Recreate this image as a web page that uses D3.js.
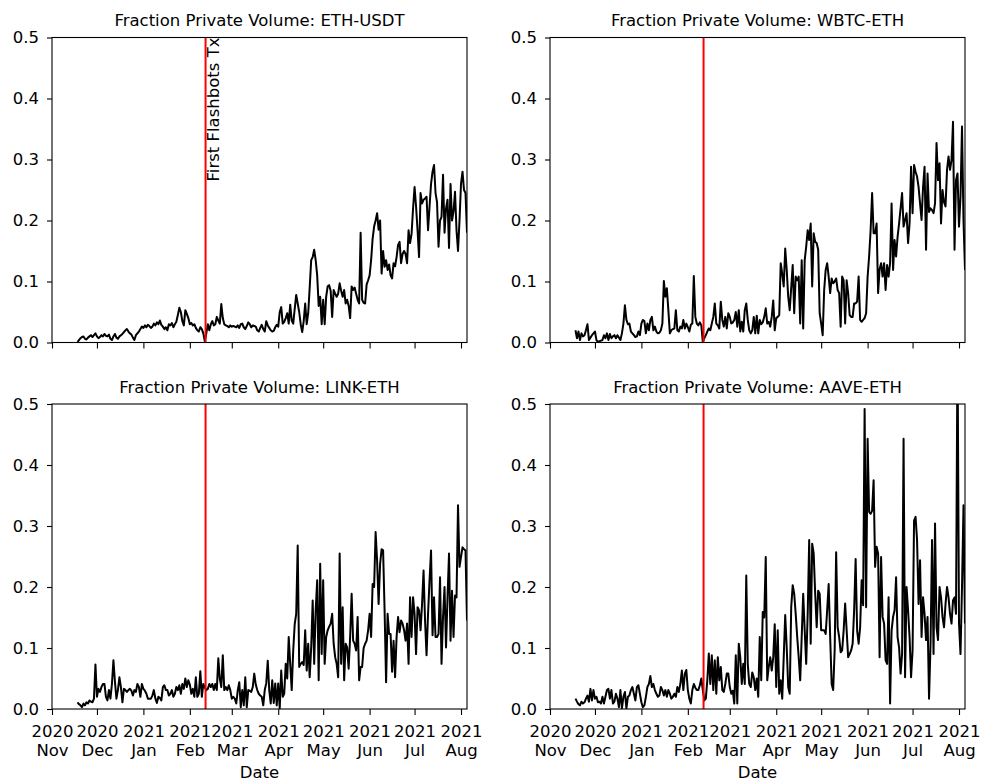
<!DOCTYPE html>
<html>
<head>
<meta charset="utf-8">
<script src="https://cdn.jsdelivr.net/npm/d3@7"></script>
<style>
    body { margin: 0; background: #fff; }
    svg text { font-family: "DejaVu Sans", sans-serif; font-size: 16.5px; fill: #000; }
</style>
</head>
<body>
<svg id="chart" width="981" height="782"></svg>
<script>
// Daily fraction of private volume, one value per day starting at firstDay
var firstDay = "2020-11-18";
var flashbotsDay = "2021-02-11T12:00:00Z";
var axisStart = "2020-11-01";
var pairNames = ["ETH-USDT", "WBTC-ETH", "LINK-ETH", "AAVE-ETH"];
var yTicks = [0, 0.1, 0.2, 0.3, 0.4, 0.5];
var monthTicks = ["2020-11-01", "2020-12-01", "2021-01-01", "2021-02-01", "2021-03-01",
    "2021-04-01", "2021-05-01", "2021-06-01", "2021-07-01", "2021-08-01"];

var ethUsdt = [
    0.001, 0.004, 0.007, 0.009, 0.01, 0.006, 0.005, 0.008, 0.01, 0.012,
    0.009, 0.012, 0.015, 0.01, 0.007, 0.009, 0.012, 0.01, 0.014, 0.011,
    0.01, 0.013, 0.006, 0.004, 0.01, 0.014, 0.008, 0.006, 0.01, 0.012,
    0.014, 0.017, 0.02, 0.022, 0.018, 0.015, 0.013, 0.008, 0.004, 0.012,
    0.015, 0.018, 0.022, 0.026, 0.024, 0.028, 0.025, 0.029, 0.027, 0.024,
    0.026, 0.031, 0.028, 0.033, 0.03, 0.036, 0.029, 0.026, 0.022, 0.025,
    0.02, 0.03, 0.028, 0.032, 0.025, 0.03, 0.034, 0.045, 0.057, 0.05,
    0.035, 0.028, 0.053, 0.047, 0.04, 0.03, 0.032, 0.028, 0.03, 0.024,
    0.02, 0.018, 0.025, 0.022, 0.015, 0.002, 0.015, 0.03, 0.02, 0.03,
    0.035, 0.028, 0.03, 0.042, 0.036, 0.031, 0.063, 0.04, 0.03, 0.028,
    0.027, 0.025, 0.028, 0.026, 0.027, 0.026, 0.025, 0.028, 0.024, 0.03,
    0.031, 0.025, 0.022, 0.027, 0.033, 0.03, 0.025, 0.028, 0.027, 0.026,
    0.02, 0.018, 0.024, 0.029, 0.022, 0.018, 0.035, 0.028, 0.024, 0.02,
    0.018, 0.019, 0.025, 0.029, 0.026, 0.05, 0.058, 0.031, 0.034, 0.04,
    0.048, 0.031, 0.062, 0.036, 0.031, 0.055, 0.078, 0.064, 0.05, 0.03,
    0.017, 0.035, 0.064, 0.03, 0.048, 0.09, 0.135, 0.14, 0.152, 0.135,
    0.11, 0.06, 0.075, 0.03, 0.07, 0.03, 0.075, 0.092, 0.094, 0.085,
    0.042, 0.086, 0.08, 0.075, 0.08, 0.097, 0.085, 0.075, 0.086, 0.064,
    0.07, 0.06, 0.04, 0.092, 0.086, 0.09, 0.08, 0.07, 0.064, 0.18,
    0.07, 0.065, 0.064, 0.095, 0.102, 0.11, 0.135, 0.17, 0.19, 0.2,
    0.212, 0.185, 0.2, 0.113, 0.15, 0.124, 0.135, 0.119, 0.128, 0.11,
    0.105, 0.13, 0.125, 0.14, 0.16, 0.165, 0.13, 0.145, 0.15, 0.145,
    0.13, 0.184, 0.163, 0.178, 0.22, 0.255, 0.223, 0.184, 0.14, 0.245,
    0.228, 0.234, 0.236, 0.239, 0.184, 0.223, 0.26, 0.28, 0.291, 0.245,
    0.23, 0.157, 0.2, 0.206, 0.275, 0.18, 0.22, 0.234, 0.155, 0.26,
    0.2, 0.215, 0.247, 0.184, 0.15, 0.2, 0.26, 0.28, 0.25, 0.245, 0.18
];

var wbtcEth = [
    0.02, 0.007, 0.018, 0.004, 0.015, 0.01, 0.012, 0.02, 0.03, 0.004,
    0.008, 0.012, 0.015, 0.018, 0.004, 0.001, 0.002, 0.003, 0.004, 0.012,
    0.007, 0.015, 0.004, 0.014, 0.007, 0.01, 0.012, 0.007, 0.012, 0.008,
    0.004, 0.015, 0.031, 0.061, 0.037, 0.03, 0.031, 0.018, 0.015, 0.012,
    0.009, 0.01, 0.018, 0.012, 0.031, 0.037, 0.035, 0.015, 0.031, 0.02,
    0.037, 0.042, 0.02, 0.026, 0.018, 0.015, 0.016, 0.02, 0.031, 0.101,
    0.075, 0.089, 0.053, 0.015, 0.02, 0.022, 0.023, 0.053, 0.02, 0.018,
    0.026, 0.023, 0.037, 0.023, 0.031, 0.025, 0.018, 0.029, 0.031, 0.109,
    0.042, 0.031, 0.028, 0.033, 0.028, 0.001, 0.007, 0.012, 0.018, 0.023,
    0.02, 0.031, 0.042, 0.064, 0.031, 0.028, 0.023, 0.067, 0.037, 0.026,
    0.042, 0.023, 0.048, 0.042, 0.031, 0.033, 0.037, 0.05, 0.026, 0.053,
    0.018, 0.034, 0.018, 0.053, 0.064, 0.037, 0.02, 0.015, 0.02, 0.042,
    0.015, 0.044, 0.015, 0.037, 0.03, 0.033, 0.042, 0.056, 0.031, 0.034,
    0.026, 0.042, 0.069, 0.02, 0.04, 0.042, 0.045, 0.13, 0.113, 0.092,
    0.154, 0.119, 0.075, 0.053, 0.09, 0.127, 0.048, 0.108, 0.102, 0.108,
    0.031, 0.135, 0.023, 0.135, 0.157, 0.184, 0.168, 0.195, 0.092, 0.179,
    0.165, 0.163, 0.152, 0.048, 0.031, 0.012, 0.086, 0.119, 0.13, 0.108,
    0.081, 0.105, 0.097, 0.1, 0.105, 0.086, 0.081, 0.026, 0.108, 0.102,
    0.031, 0.102, 0.081, 0.045, 0.042, 0.042, 0.064, 0.064, 0.067, 0.108,
    0.037, 0.034, 0.037, 0.04, 0.048, 0.108, 0.141, 0.184, 0.245, 0.179,
    0.179, 0.195, 0.081, 0.12, 0.13, 0.108, 0.13, 0.086, 0.127, 0.108,
    0.13, 0.228, 0.119, 0.168, 0.141, 0.173, 0.195, 0.22, 0.245, 0.19,
    0.201, 0.212, 0.163, 0.195, 0.288, 0.212, 0.291, 0.28, 0.272, 0.255,
    0.228, 0.201, 0.255, 0.288, 0.152, 0.277, 0.214, 0.22, 0.217, 0.212,
    0.228, 0.327, 0.266, 0.294, 0.195, 0.25, 0.23, 0.223, 0.283, 0.305,
    0.283, 0.299, 0.362, 0.152, 0.266, 0.277, 0.19, 0.239, 0.354, 0.2, 0.119
];

var linkEth = [
    0.011, 0.008, 0.006, 0.003, 0.009, 0.006, 0.011, 0.009, 0.014, 0.012,
    0.011, 0.017, 0.073, 0.02, 0.033, 0.028, 0.036, 0.041, 0.041, 0.02,
    0.014, 0.031, 0.017, 0.041, 0.08, 0.045, 0.017, 0.031, 0.052, 0.036,
    0.011, 0.033, 0.031, 0.028, 0.031, 0.033, 0.03, 0.022, 0.031, 0.028,
    0.041, 0.036, 0.02, 0.041, 0.033, 0.03, 0.025, 0.017, 0.017, 0.017,
    0.022, 0.031, 0.017, 0.01, 0.02, 0.018, 0.014, 0.036, 0.039, 0.031,
    0.031, 0.022, 0.025, 0.031, 0.02, 0.025, 0.036, 0.031, 0.039, 0.025,
    0.041, 0.033, 0.05, 0.036, 0.047, 0.04, 0.025, 0.033, 0.02, 0.052,
    0.02, 0.025, 0.062, 0.02, 0.041, 0.035, 0.031, 0.033, 0.041, 0.036,
    0.041, 0.031, 0.041, 0.031, 0.083, 0.05, 0.036, 0.088, 0.031, 0.036,
    0.031, 0.039, 0.031, 0.017, 0.02, 0.017, 0.009, 0.031, 0.044, 0.003,
    0.031, 0.006, 0.052, 0.003, 0.031, 0.03, 0.028, 0.036, 0.058, 0.04,
    0.031, 0.025, 0.022, 0.02, 0.006, 0.031, 0.042, 0.079, 0.031, 0.009,
    0.047, 0.01, 0.042, 0.006, 0.042, 0.001, 0.063, 0.02, 0.025, 0.074,
    0.05, 0.118, 0.074, 0.031, 0.096, 0.139, 0.156, 0.268, 0.069, 0.074,
    0.077, 0.072, 0.129, 0.063, 0.107, 0.052, 0.101, 0.178, 0.074, 0.162,
    0.211, 0.047, 0.238, 0.09, 0.211, 0.074, 0.118, 0.129, 0.135, 0.14,
    0.156, 0.107, 0.085, 0.074, 0.052, 0.255, 0.074, 0.167, 0.047, 0.107,
    0.101, 0.066, 0.118, 0.189, 0.112, 0.107, 0.096, 0.151, 0.047, 0.069,
    0.069, 0.1, 0.107, 0.112, 0.129, 0.156, 0.118, 0.205, 0.2, 0.29,
    0.243, 0.172, 0.238, 0.262, 0.26, 0.161, 0.044, 0.156, 0.123, 0.123,
    0.061, 0.112, 0.052, 0.118, 0.151, 0.126, 0.145, 0.14, 0.129, 0.112,
    0.14, 0.074, 0.183, 0.118, 0.183, 0.156, 0.09, 0.167, 0.162, 0.129,
    0.172, 0.227, 0.145, 0.088, 0.156, 0.211, 0.26, 0.121, 0.183, 0.118,
    0.118, 0.123, 0.216, 0.074, 0.151, 0.2, 0.101, 0.183, 0.255, 0.112,
    0.194, 0.118, 0.186, 0.183, 0.334, 0.233, 0.249, 0.265, 0.262, 0.26, 0.145
];

var aaveEth = [
    0.017, 0.012, 0.008, 0.006, 0.012, 0.009, 0.011, 0.017, 0.022, 0.012,
    0.033, 0.014, 0.031, 0.017, 0.02, 0.011, 0.012, 0.009, 0.02, 0.009,
    0.02, 0.031, 0.033, 0.017, 0.031, 0.009, 0.012, 0.025, 0.017, 0.003,
    0.031, 0.001, 0.02, 0.028, 0.001, 0.02, 0.022, 0.031, 0.036, 0.025,
    0.014, 0.036, 0.039, 0.025, 0.011, 0.003, 0.006, 0.02, 0.036, 0.041,
    0.054, 0.036, 0.041, 0.031, 0.025, 0.02, 0.022, 0.036, 0.031, 0.022,
    0.031, 0.02, 0.031, 0.025, 0.017, 0.02, 0.025, 0.02, 0.036, 0.028,
    0.041, 0.063, 0.031, 0.058, 0.064, 0.031, 0.017, 0.009, 0.031, 0.041,
    0.035, 0.031, 0.031, 0.039, 0.05, 0.031, 0.014, 0.017, 0.047, 0.091,
    0.041, 0.088, 0.031, 0.08, 0.025, 0.085, 0.047, 0.069, 0.031, 0.028,
    0.041, 0.058, 0.058, 0.036, 0.025, 0.03, 0.009, 0.088, 0.009, 0.107,
    0.085, 0.041, 0.074, 0.041, 0.219, 0.074, 0.041, 0.036, 0.06, 0.052,
    0.031, 0.05, 0.02, 0.118, 0.047, 0.159, 0.15, 0.249, 0.047, 0.069,
    0.085, 0.063, 0.085, 0.139, 0.036, 0.129, 0.025, 0.047, 0.017, 0.085,
    0.154, 0.101, 0.036, 0.025, 0.167, 0.203, 0.189, 0.156, 0.118, 0.085,
    0.047, 0.118, 0.189, 0.129, 0.074, 0.156, 0.277, 0.107, 0.271, 0.255,
    0.189, 0.134, 0.194, 0.189, 0.129, 0.129, 0.129, 0.123, 0.162, 0.205,
    0.118, 0.041, 0.031, 0.096, 0.257, 0.134, 0.118, 0.093, 0.096, 0.129,
    0.173, 0.129, 0.085, 0.09, 0.096, 0.107, 0.162, 0.246, 0.129, 0.107,
    0.134, 0.211, 0.17, 0.492, 0.167, 0.443, 0.323, 0.32, 0.325, 0.375,
    0.233, 0.266, 0.255, 0.085, 0.249, 0.151, 0.14, 0.08, 0.074, 0.183,
    0.009, 0.129, 0.151, 0.162, 0.216, 0.118, 0.101, 0.058, 0.09, 0.443,
    0.052, 0.2, 0.162, 0.118, 0.052, 0.096, 0.309, 0.315, 0.277, 0.172,
    0.244, 0.118, 0.183, 0.156, 0.113, 0.151, 0.017, 0.107, 0.277, 0.09,
    0.304, 0.134, 0.113, 0.2, 0.183, 0.151, 0.134, 0.172, 0.2, 0.183,
    0.156, 0.14, 0.178, 0.183, 0.156, 0.6, 0.14, 0.09, 0.2, 0.334, 0.14
];

var seriesValues = [ethUsdt, wbtcEth, linkEth, aaveEth];

// layout of the 2x2 grid (left, top of each plot area)
var plotWidth = 415,
    plotHeight = 305;
var cells = [
    {left: 52, top: 37.5, row: 0},
    {left: 550, top: 37.5, row: 0},
    {left: 52, top: 404, row: 1},
    {left: 550, top: 404, row: 1}
];

var svg = d3.select("#chart");
svg.append("rect").attr("width", 981).attr("height", 782).attr("fill", "#fff");

var start = new Date(firstDay + "T00:00:00Z");
function toRows(values) {
    return values.map(function (v, i) {
        return {date: d3.utcDay.offset(start, i), value: v};
    });
}

var lastDay = d3.utcDay.offset(start, ethUsdt.length - 1);

var xScale = d3.scaleUtc()
    .domain([new Date(axisStart + "T00:00:00Z"), lastDay])
    .range([0, plotWidth]);

var yScale = d3.scaleLinear()
    .domain([0, 0.5])
    .range([plotHeight, 0]);

var tickDates = monthTicks.map(function (d) { return new Date(d + "T00:00:00Z"); });
var yearFormat = d3.utcFormat("%Y"),
    monthFormat = d3.utcFormat("%b");

var line = d3.line()
    .x(function (d) { return xScale(d.date); })
    .y(function (d) { return yScale(d.value); });

function drawPanel(k) {
    var cell = cells[k];
    var g = svg.append("g")
        .attr("transform", "translate(" + cell.left + "," + cell.top + ")");

    g.append("clipPath").attr("id", "clip" + k)
        .append("rect").attr("width", plotWidth).attr("height", plotHeight);

    // data line
    g.append("path")
        .datum(toRows(seriesValues[k]))
        .attr("clip-path", "url(#clip" + k + ")")
        .attr("fill", "none")
        .attr("stroke", "#000")
        .attr("stroke-width", 2)
        .attr("stroke-linejoin", "round")
        .attr("d", line);

    // first flashbots transaction
    var fx = xScale(new Date(flashbotsDay));
    g.append("line")
        .attr("x1", fx).attr("x2", fx)
        .attr("y1", 0).attr("y2", plotHeight)
        .attr("stroke", "#ff0000")
        .attr("stroke-width", 2);

    if (k === 0) {
        g.append("text")
            .attr("transform", "translate(" + (fx + 13.5) + ",0) rotate(-90)")
            .attr("text-anchor", "end")
            .text("First Flashbots Tx");
    }

    // y axis
    var yAxis = d3.axisLeft(yScale)
        .tickValues(yTicks)
        .tickFormat(d3.format(".1f"))
        .tickSize(5)
        .tickPadding(8);
    var ya = g.append("g").call(yAxis);
    ya.select(".domain").remove();
    ya.selectAll("line").attr("stroke-width", 1.1);
    ya.selectAll("text").attr("font-size", null).attr("font-family", null);

    // x axis: labels only on the bottom row
    var xAxis = d3.axisBottom(xScale)
        .tickValues(tickDates)
        .tickSize(6)
        .tickFormat("");
    var xa = g.append("g")
        .attr("transform", "translate(0," + plotHeight + ")")
        .call(xAxis);
    xa.select(".domain").remove();
    xa.selectAll("line").attr("stroke-width", 1.1);
    xa.selectAll("text").remove();

    if (cell.row === 1) {
        var lbl = xa.selectAll(".tick").append("text")
            .attr("text-anchor", "middle")
            .attr("y", 28);
        lbl.append("tspan").attr("x", 0).text(function (d) { return yearFormat(d); });
        lbl.append("tspan").attr("x", 0).attr("dy", 19).text(function (d) { return monthFormat(d); });

        g.append("text")
            .attr("x", plotWidth / 2)
            .attr("y", plotHeight + 69)
            .attr("text-anchor", "middle")
            .text("Date");
    }

    // frame
    g.append("rect")
        .attr("width", plotWidth)
        .attr("height", plotHeight)
        .attr("fill", "none")
        .attr("stroke", "#000")
        .attr("stroke-width", 1.1);

    g.append("text")
        .attr("x", plotWidth / 2)
        .attr("y", -11.5)
        .attr("text-anchor", "middle")
        .text("Fraction Private Volume: " + pairNames[k]);
}

for (var k = 0; k < 4; k++) {
    drawPanel(k);
}
</script>
</body>
</html>
